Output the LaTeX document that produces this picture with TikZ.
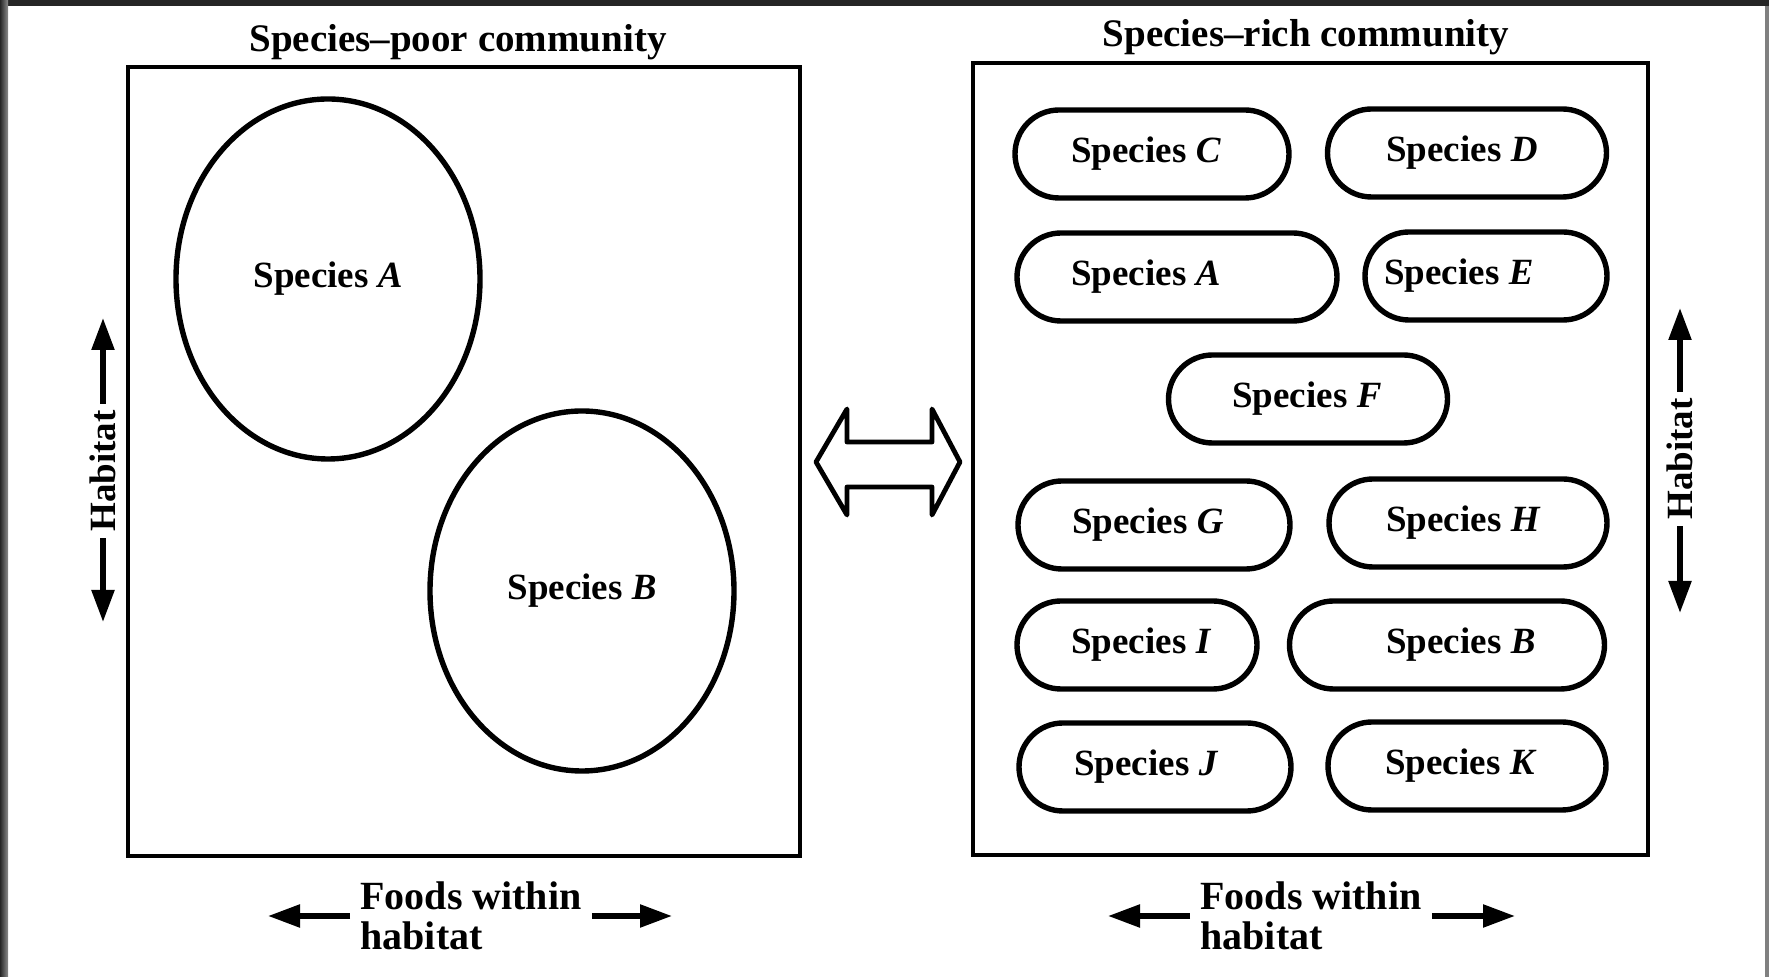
\documentclass[tikz,border=0pt]{standalone}
\usepackage{fontspec}
\setmainfont{Liberation Serif}
\usetikzlibrary{shapes.geometric, shapes.misc, arrows.meta, positioning}

\tikzset{
    pill/.style={draw, rounded rectangle, line width=2.7pt, minimum height=44pt, inner sep=0pt},
    blob/.style={draw, ellipse, line width=2.7pt, minimum width=152pt, minimum height=180pt, inner sep=0pt},
    panel/.style={draw, line width=2.2pt},
    fat/.style={line width=2.7pt, -{Triangle[length=16pt, width=11pt]}},
    head/.style={font=\fontsize{19.5}{23}\selectfont\bfseries},
}

\begin{document}
\begin{tikzpicture}[x=0.5pt, y=-0.5pt, every node/.style={font=\fontsize{18.5}{22}\selectfont\bfseries}]
    \useasboundingbox (0,0) rectangle (1769,977);
    \fill[black!85] (0,0) rectangle (1769,6);
    \shade[left color=black!85, right color=black!45] (0,0) rectangle (8,977);
    \fill[black!50] (1765,6) rectangle (1769,977);

    \draw[panel] (128,67) rectangle (800,856);
    \draw[panel] (973,63) rectangle (1648,855);
    \node[head, anchor=base] (tPoor) at (458,52) {Species--poor community};
    \node[head, anchor=base] (tRich) at (1306,47) {Species--rich community};

    \node[blob] (eA) at (328,279) {Species \textit{A}};
    \node[blob] (eB) at (582,591) {Species \textit{B}};

    \draw[line width=2.4pt, line join=round] (816,462) -- (847,409) -- (847,442) -- (932,442) -- (932,409)
        -- (960,462) -- (932,515) -- (932,487) -- (847,487) -- (847,515) -- cycle;

    \foreach \n/\x/\y/\w/\tx in {C/1152/154/137/1071, D/1467/153/139.5/1386, A/1177/277/160/1071,
        E/1486/276/121/1384, F/1308/399/139.5/1232, G/1154/525/136/1072, H/1468/523/139/1386,
        I/1137/645/120/1071, B/1447/645/157.5/1386, J/1155/767/136/1074, K/1467/766/139/1385} {
        \node[pill, minimum width=\w pt] (s\n) at (\x,\y) {};
        \node[anchor=west, inner sep=0pt] (t\n) at (\tx,\y) {Species \textit{\n}};
    }

    \node[rotate=90, inner sep=3pt] (hL) at (103,471) {Habitat};
    \node[rotate=90, inner sep=3pt] (hR) at (1680,459) {Habitat};
    \coordinate (hLup) at (103,318);
    \coordinate (hLdn) at (103,622);
    \coordinate (hRup) at (1680,308);
    \coordinate (hRdn) at (1680,613);
    \draw[fat] (hL.east) -- (hLup);
    \draw[fat] (hL.west) -- (hLdn);
    \draw[fat] (hR.east) -- (hRup);
    \draw[fat] (hR.west) -- (hRdn);

    \node[head, align=left, anchor=west, inner sep=5pt, font=\fontsize{20}{20}\selectfont\bfseries] (fL) at (350,916) {Foods within\\habitat};
    \node[head, align=left, anchor=west, inner sep=5pt, font=\fontsize{20}{20}\selectfont\bfseries] (fR) at (1190,916) {Foods within\\habitat};
    \coordinate (fLl) at (268,916);
    \coordinate (fLr) at (672,916);
    \coordinate (fRl) at (1108,916);
    \coordinate (fRr) at (1515,916);
    \draw[fat] (fL.west) -- (fLl);
    \draw[fat] (fL.east) -- (fLr);
    \draw[fat] (fR.west) -- (fRl);
    \draw[fat] (fR.east) -- (fRr);
\end{tikzpicture}
\end{document}
